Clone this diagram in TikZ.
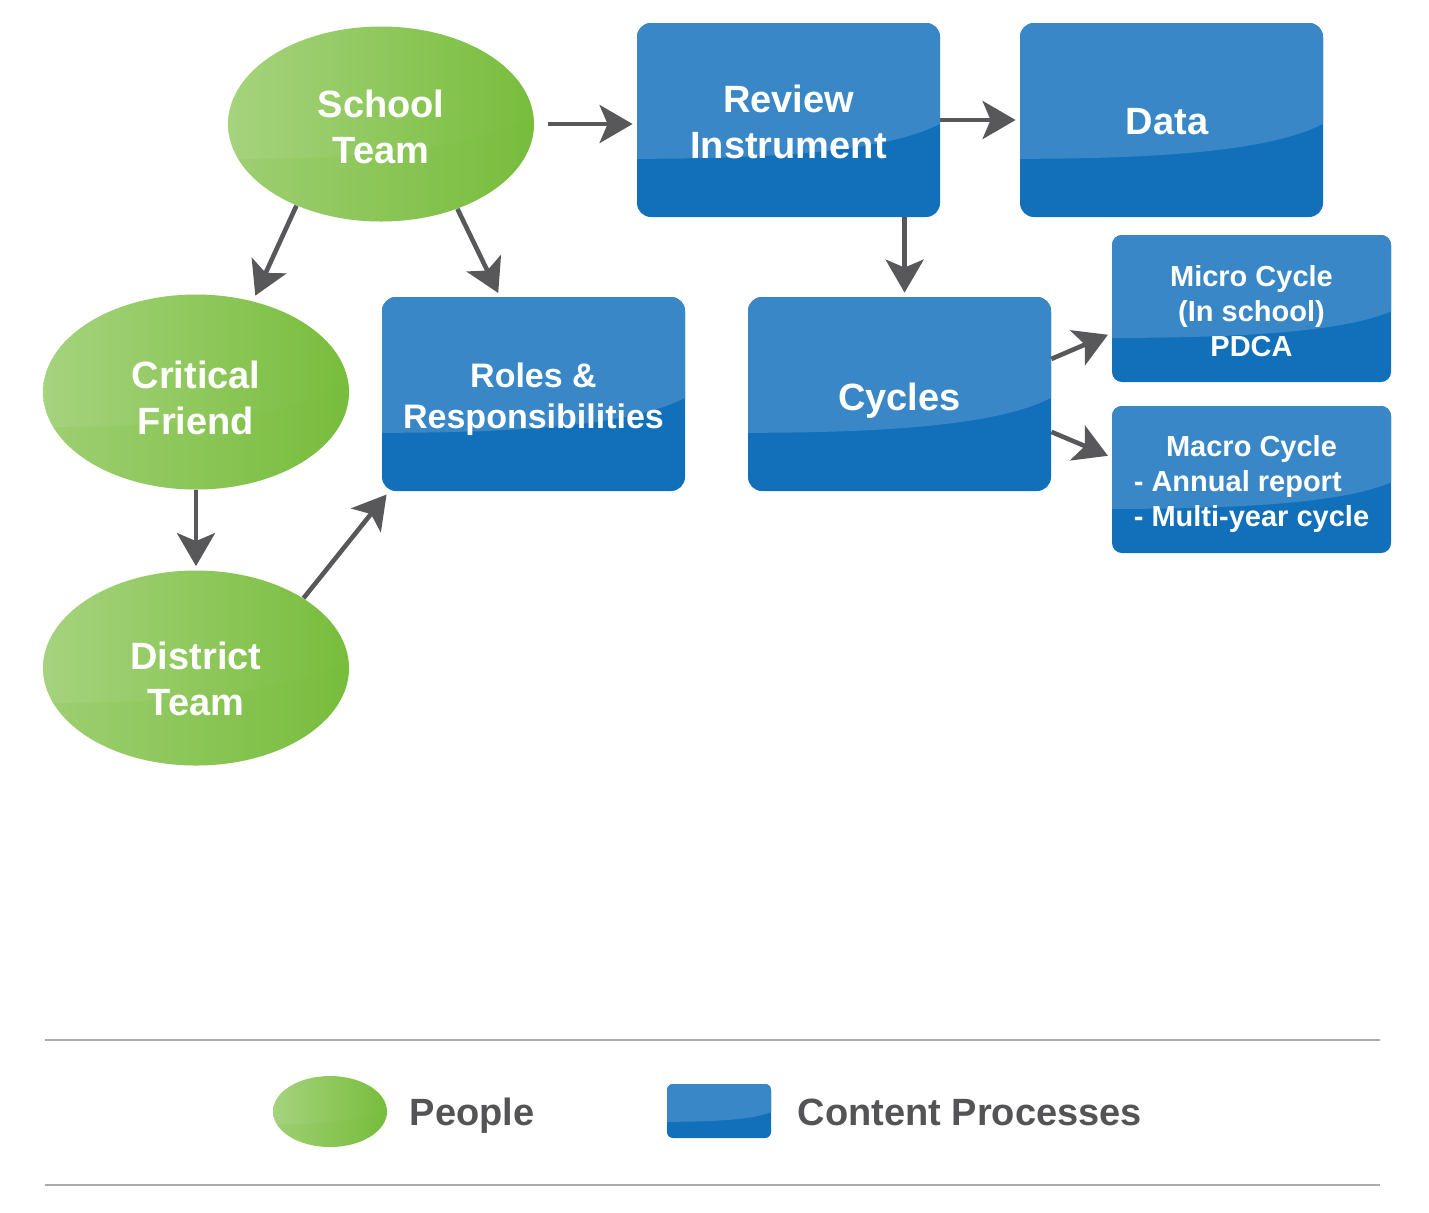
\documentclass[tikz,border=0pt]{standalone}
\usepackage{fontspec}
\setmainfont{Liberation Sans}
\usetikzlibrary{shapes.geometric,arrows.meta,calc,positioning}
\definecolor{greenlight}{HTML}{A6D37E}
\definecolor{greendark}{HTML}{78BD3C}
\definecolor{bluetop}{HTML}{3987C6}
\definecolor{bluebottom}{HTML}{1170B9}
\definecolor{arrowgray}{HTML}{58585A}
\definecolor{textgray}{HTML}{545456}
\definecolor{rulegray}{HTML}{ABABAB}
% text set a little below the middle of its shape
\newcommand{\droptext}[2]{\raisebox{-#1}[\height][\depth]{%
  \begin{tabular}{@{}c@{}}#2\end{tabular}}}
\begin{document}
\begin{tikzpicture}
[x=0.5pt,y=-0.5pt,
  bluegloss/.style={path picture={
    \coordinate (sw) at (path picture bounding box.south west);
    \coordinate (nw) at (path picture bounding box.north west);
    \coordinate (se) at (path picture bounding box.south east);
    \coordinate (ne) at (path picture bounding box.north east);
    \coordinate (gA) at ($(sw)!.30!(nw)$);
    \coordinate (gB) at ($(se)!.48!(ne)$);
    \coordinate (gD) at ($(se)!.36!(ne)$);
    \coordinate (gC1) at ($(gA)!.55!(gA -| gB)$);
    \coordinate (gC2) at ($(gA |- gD)!.85!(gD)$);
    \fill[bluetop,sharp corners] (nw) -- (gA) .. controls (gC1) and (gC2) .. (gB)
      -- (ne) -- cycle;}},
  greengloss/.style={path picture={
    \coordinate (sw) at (path picture bounding box.south west);
    \coordinate (nw) at (path picture bounding box.north west);
    \coordinate (se) at (path picture bounding box.south east);
    \coordinate (ne) at (path picture bounding box.north east);
    \coordinate (gA) at ($(sw)!.32!(nw)$);
    \coordinate (gB) at ($(se)!.55!(ne)$);
    \coordinate (gD) at ($(se)!.40!(ne)$);
    \coordinate (gC1) at ($(gA)!.55!(gA -| gB)$);
    \coordinate (gC2) at ($(gA |- gD)!.85!(gD)$);
    \fill[greendark,opacity=.16,sharp corners] (sw) -- (gA) .. controls (gC1) and (gC2) .. (gB)
      -- (se) -- cycle;}},
  peopledecorate/.style={shape=ellipse,inner sep=0pt,minimum width=153pt,
    minimum height=97.5pt,left color=greenlight,right color=greendark,
    text=white,font=\bfseries\fontsize{19}{23}\selectfont,greengloss},
  processdecorate/.style={shape=rectangle,rounded corners=7pt,inner sep=0pt,
    minimum width=151.5pt,minimum height=97pt,fill=bluebottom,
    text=white,font=\bfseries\fontsize{19}{23}\selectfont,bluegloss},
  smallbox/.style={minimum width=139.5pt,minimum height=73.5pt,rounded corners=5pt,
    font=\bfseries\fontsize{14.5}{17.5}\selectfont},
  arrowdecorate/.style={-{Stealth[length=16.5pt,width=19pt,inset=4pt]},
    draw=arrowgray,line width=2.3pt,shorten >=2pt},
  startgap/.style={shorten <=7pt},
  endgap/.style={shorten >=3pt},
  nogap/.style={},
  ruledecorate/.style={draw=rulegray,line width=1.3pt},
  legenddecorate/.style={inner sep=0pt,text=textgray,
    font=\bfseries\fontsize{19}{23}\selectfont}]
\useasboundingbox (0,0) rectangle (1429,1212);
%% people
\foreach \nodename/\x/\y/\drop/\nodetext in {school/381/124/3.5pt/School\\Team,
  critical/196/392/5pt/Critical\\Friend, district/196/668/7.75pt/District\\Team}
{
  \node (\nodename) at (\x,\y) [peopledecorate] {\droptext{\drop}{\nodetext}};
}
%% content processes
\node (review) at (788.5,120) [processdecorate] {\droptext{3pt}{Review\\Instrument}};
\node (data) at (1171.5,120) [processdecorate] {\droptext{2.5pt}{Data\kern4.5pt}};
\node (roles) at (533.5,394) [processdecorate,
  font=\bfseries\fontsize{17}{20.5}\selectfont] {\droptext{3pt}{Roles \&\\Responsibilities}};
\node (cycles) at (899.5,394) [processdecorate] {\droptext{3.5pt}{Cycles}};
\node (micro) at (1251.5,308.5) [processdecorate,smallbox]
  {\droptext{3pt}{Micro Cycle\\(In school)\\PDCA}};
\node (macro) at (1251.5,479.5) [processdecorate,smallbox]
  {\droptext{2.5pt}{Macro Cycle\\\rlap{- Annual report}\phantom{- Multi-year cycle}\\- Multi-year cycle}};
%% edges
\path
\foreach \startnode/\endnode/\gap in {school.east/school.east -| review.west/startgap,
  review.east/data.west/nogap, school.-136/critical.58/endgap,
  school.-48/roles.109/nogap, critical.south/district.north/nogap,
  district.33/roles.214/nogap, review.-40/review.-40 |- cycles.north/nogap,
  cycles.13/micro.190/nogap, cycles.-14/macro.171/nogap} {
  (\startnode) edge[arrowdecorate,\gap] (\endnode)
};
%% legend
\draw[ruledecorate] (45,1040) -- (1380,1040);
\draw[ruledecorate] (45,1185) -- (1380,1185);
\node (legpeople) at (330,1111.5) [peopledecorate,minimum width=57pt,
  minimum height=35.5pt] {};
\node (legpeopletext) [legenddecorate,right=11pt of legpeople] {\droptext{2.5pt}{People}};
\node (legprocess) at (719,1111) [processdecorate,minimum width=52pt,
  minimum height=27pt,rounded corners=3pt] {};
\node (legprocesstext) [legenddecorate,right=13pt of legprocess] {\droptext{2.5pt}{Content Processes}};
\end{tikzpicture}
\end{document}
